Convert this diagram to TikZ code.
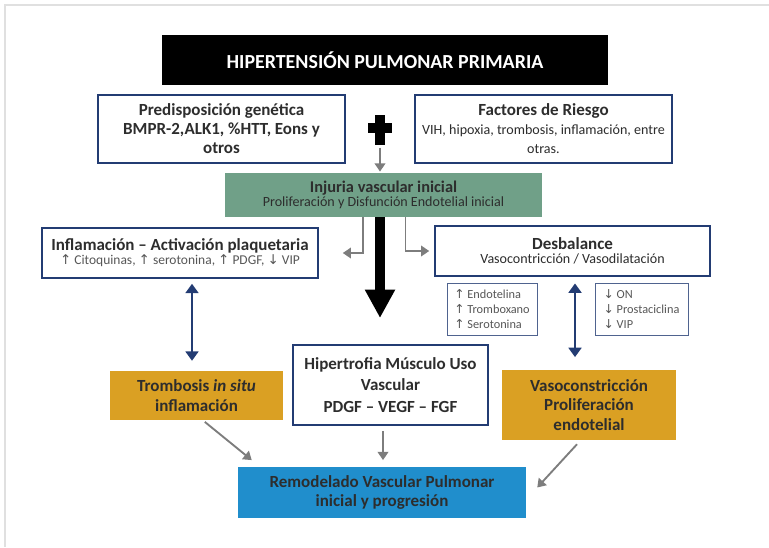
\documentclass[tikz,border=0pt]{standalone}
\usepackage{fontspec}
\setmainfont{Carlito}
\newfontfamily\arrowfont{DejaVu Sans}
\usepackage{xcolor}
\usetikzlibrary{arrows.meta, positioning}
\definecolor{hpnavy}{RGB}{35, 60, 115}
\definecolor{hpgreen}{RGB}{112, 160, 136}
\definecolor{hporange}{RGB}{218, 160, 35}
\definecolor{hpblue}{RGB}{32, 142, 204}
\definecolor{hpgray}{RGB}{125, 125, 125}
\definecolor{hptext}{RGB}{45, 45, 45}
\newcommand{\upar}{{\arrowfont ↑}}
\newcommand{\dnar}{{\arrowfont ↓}}

\begin{document}
\begin{tikzpicture}[
    x=0.03cm, y=-0.03cm,
    wbox/.style={draw=hpnavy, line width=1.3pt, fill=white, align=center,
                 text=hptext, inner sep=2pt},
    smallbox/.style={draw=hpnavy!80, line width=0.8pt, fill=white, align=left,
                     text=hptext!80, inner sep=2pt, font=\fontsize{10.5}{12.8}\selectfont},
    titlebox/.style={fill=black, text=white, align=center,
                     font=\fontsize{17}{20}\selectfont\bfseries},
    greenbox/.style={fill=hpgreen, text=hptext, align=center, inner sep=1pt},
    orangebox/.style={fill=hporange, text=hptext, align=center,
                      font=\fontsize{14.5}{16.5}\selectfont\bfseries},
    bluebox/.style={fill=hpblue, text=hptext, align=center,
                    font=\fontsize{14.5}{17}\selectfont\bfseries},
    garr/.style={-{Triangle[length=7pt, width=9pt]}, draw=hpgray, line width=1.6pt},
    barr/.style={{Triangle[length=8pt, width=11pt]}-{Triangle[length=8pt, width=11pt]},
                 draw=hpnavy, line width=1.8pt},
    bigarr/.style={-{Triangle[length=0.85cm, width=0.85cm]}, draw=black, line width=0.3cm},
  ]
    \useasboundingbox (0,0) rectangle (769,547);
    % page frame
    \draw[black!12, line width=0.08cm] (5,547) -- (5,5) -- (769,5);

    % title and the two causes
    \node[titlebox, minimum width=13.38cm, minimum height=1.5cm] (title) at (385,60)
      {HIPERTENSIÓN PULMONAR PRIMARIA};
    \node[wbox, minimum width=7.41cm, minimum height=2.04cm,
          font=\fontsize{14.5}{16.2}\selectfont\bfseries] (gen) at (221.5,129)
      {Predisposición genética\\BMPR-2,ALK1, \%HTT, Eons y\\otros};
    \node[wbox, minimum width=7.71cm, minimum height=2.04cm,
          font=\fontsize{12}{16.2}\selectfont] (fac) at (543.5,129)
      {{\fontsize{14.5}{16.2}\selectfont\bfseries Factores de Riesgo}\\
       VIH, hipoxia, trombosis, inflamación, entre\\otras.};
    \node[minimum width=0.72cm, minimum height=0.9cm, inner sep=0pt,
          path picture={
            \fill[black] ([xshift=-0.15cm]path picture bounding box.north)
              rectangle ([xshift=0.15cm]path picture bounding box.south);
            \fill[black] ([yshift=0.2cm]path picture bounding box.west)
              rectangle ([yshift=-0.08cm]path picture bounding box.east);
          }] (plus) at (380,130) {};

    % initial injury
    \node[greenbox, minimum width=9.51cm, minimum height=1.32cm] (inj) at (383.5,195)
      {{\fontsize{14}{16}\selectfont\bfseries Injuria vascular inicial}\\
       {\fontsize{12}{14}\selectfont Proliferación y Disfunción Endotelial inicial}};

    % second row
    \node[wbox, minimum width=8.28cm, minimum height=1.5cm] (infl) at (180,253)
      {{\fontsize{14.5}{16}\selectfont\bfseries Inflamación – Activación plaquetaria}\\
       {\fontsize{11.5}{14}\selectfont\color{hptext!80}\upar{} Citoquinas, \upar{} serotonina, \upar{} PDGF, \dnar{} VIP}};
    \node[wbox, minimum width=8.25cm, minimum height=1.5cm] (desb) at (572.5,251)
      {{\fontsize{14.5}{16}\selectfont\bfseries Desbalance}\\
       {\fontsize{12}{14}\selectfont Vasocontricción / Vasodilatación}};
    \node[smallbox, minimum width=2.7cm, minimum height=1.56cm] (endo) at (492,309)
      {\upar{} Endotelina\\ \upar{} Tromboxano\\ \upar{} Serotonina};
    \node[smallbox, minimum width=2.79cm, minimum height=1.56cm] (on) at (641.5,309)
      {\dnar{} ON\\ \dnar{} Prostaciclina\\ \dnar{} VIP};

    % third row
    \node[orangebox, minimum width=5.19cm, minimum height=1.47cm] (trom) at (196.5,395.5)
      {Trombosis \textit{in situ}\\inflamación};
    \node[wbox, minimum width=5.85cm, minimum height=2.4cm,
          font=\fontsize{14.5}{18.3}\selectfont\bfseries] (hip) at (390.5,385)
      {Hipertrofia Músculo Uso\\Vascular\\PDGF – VEGF – FGF};
    \node[orangebox, minimum width=5.22cm, minimum height=2.1cm] (vaso) at (589,405)
      {Vasoconstricción\\Proliferación\\endotelial};

    % outcome
    \node[bluebox, minimum width=8.64cm, minimum height=1.53cm] (remo) at (382,492.5)
      {Remodelado Vascular Pulmonar\\inicial y progresión};

    % connectors
    \coordinate (bigtip) at (380,318);
    \draw[garr, shorten <=2pt, shorten >=1pt] (plus.south) -- (plus.south |- inj.north);
    \draw[bigarr] (inj.south -| bigtip) -- (bigtip);
    \draw[garr, shorten >=0.72cm] ([xshift=-0.62cm]inj.south) |- (infl.east);
    \draw[garr, shorten >=0.15cm] ([xshift=0.66cm]inj.south) |- (desb.west);
    \draw[barr, shorten <=0.18cm, shorten >=0.3cm] (trom.north -| 192,0) ++(0,-93)
      -- (trom.north -| 192,0);
    \draw[barr, shorten <=0.2cm, shorten >=0.38cm] (desb.south -| 575,0)
      -- (vaso.north -| 575,0);
    \draw[garr, shorten <=0.15cm, shorten >=0.2cm] (hip.south -| remo.north) ++(1,0)
      -- ([xshift=0.03cm]remo.north);
    \draw[garr] ([xshift=0.25cm, yshift=-0.05cm]trom.south)
      -- ([xshift=0.42cm, yshift=0.2cm]remo.north west);
    \draw[garr] ([xshift=-0.36cm, yshift=-0.12cm]vaso.south)
      -- ([xshift=0.33cm, yshift=0.15cm]remo.east);
\end{tikzpicture}
\end{document}
